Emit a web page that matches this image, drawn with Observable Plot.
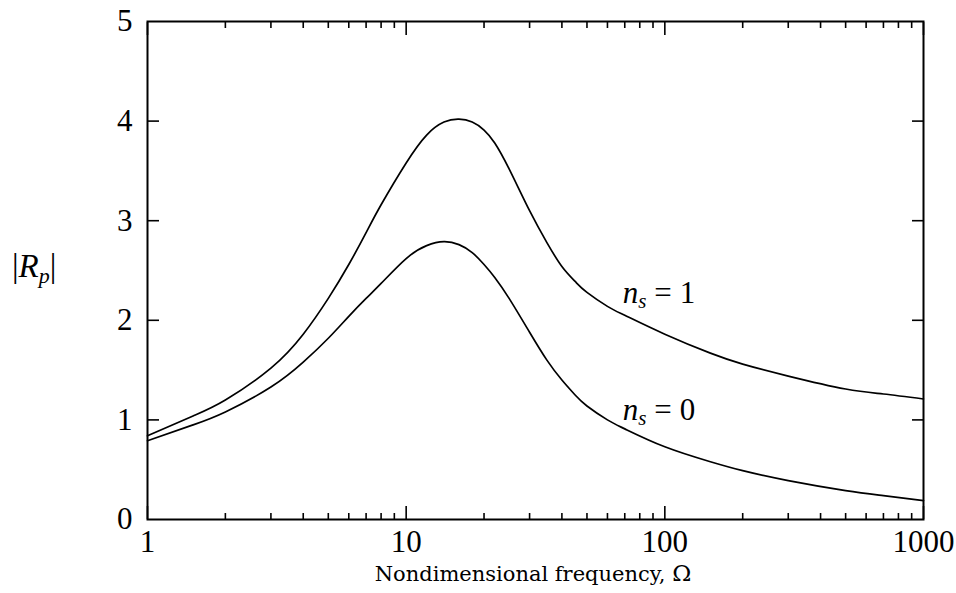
<!DOCTYPE html>
<html><head><meta charset="utf-8">
<script src="https://cdn.jsdelivr.net/npm/d3@7"></script>
<script src="https://cdn.jsdelivr.net/npm/@observablehq/plot@0.6"></script>
<style>body{margin:0;background:#fff}</style>
</head><body><div id="chart"></div>
<script>
// Nondimensional frequency Ω
const omega = [1, 1.5, 2, 3, 4, 5, 6, 7, 8, 10, 12, 14, 16, 18, 20, 22, 25, 30, 35, 40, 45, 50, 60, 70, 100, 150, 200, 300, 500, 700, 1000];
// |R_p| for n_s = 1
const rpNs1 = [0.84, 1.04, 1.20, 1.52, 1.86, 2.22, 2.56, 2.88, 3.16, 3.58, 3.86, 3.99, 4.02, 3.99, 3.91, 3.78, 3.52, 3.10, 2.78, 2.54, 2.39, 2.28, 2.14, 2.05, 1.86, 1.67, 1.56, 1.44, 1.31, 1.26, 1.21];
// |R_p| for n_s = 0
const rpNs0 = [0.79, 0.95, 1.08, 1.33, 1.58, 1.82, 2.04, 2.22, 2.37, 2.62, 2.75, 2.79, 2.76, 2.68, 2.56, 2.43, 2.22, 1.88, 1.60, 1.40, 1.25, 1.14, 1.00, 0.91, 0.73, 0.58, 0.49, 0.39, 0.29, 0.24, 0.19];

const xMajorTicks = [1, 10, 100, 1000];
const xMinorTicks = [2, 3, 4, 5, 6, 7, 8, 9, 20, 30, 40, 50, 60, 70, 80, 90, 200, 300, 400, 500, 600, 700, 800, 900];
const yTickLabels = [0, 1, 2, 3, 4, 5];
const yInnerTicks = [1, 2, 3, 4];

const seriesNames = ["1", "0"];
const labelOmega = [69, 69];
const labelValue = [2.17, 0.99];

const data = omega.flatMap((o, i) => [
  {omega: o, rp: rpNs1[i], ns: "1"},
  {omega: o, rp: rpNs0[i], ns: "0"}
]);

const serif = "'Liberation Serif', 'Times New Roman', serif";

const plot = Plot.plot({
  width: 956,
  height: 593,
  marginLeft: 147,
  marginRight: 33,
  marginTop: 21,
  marginBottom: 74,
  x: {type: "log", domain: [1, 1000]},
  y: {domain: [0, 5]},
  style: {fontFamily: serif, fontSize: "31px", color: "black", background: "white"},
  marks: [
    Plot.axisX(xMajorTicks, {anchor: "bottom", tickSize: -13, text: null, label: null, strokeWidth: 1.6}),
    Plot.axisX(xMinorTicks, {anchor: "bottom", tickSize: -6, text: null, label: null, strokeWidth: 1.6}),
    Plot.axisX(xMajorTicks, {anchor: "top", tickSize: -13, text: null, label: null, strokeWidth: 1.6}),
    Plot.axisX(xMinorTicks, {anchor: "top", tickSize: -6, text: null, label: null, strokeWidth: 1.6}),
    Plot.axisX(xMajorTicks, {anchor: "bottom", tickSize: 0, tickPadding: 10, label: null, tickFormat: d => String(d)}),
    Plot.axisY(yInnerTicks, {anchor: "left", tickSize: -12, text: null, label: null, strokeWidth: 1.6}),
    Plot.axisY(yInnerTicks, {anchor: "right", tickSize: -12, text: null, label: null, strokeWidth: 1.6}),
    Plot.axisY(yTickLabels, {anchor: "left", tickSize: 0, tickPadding: 15, label: null, tickFormat: d => String(d)}),
    Plot.line(data, {x: "omega", y: "rp", z: "ns", stroke: "black", strokeWidth: 1.7, curve: "natural"}),
    Plot.frame({stroke: "black", strokeWidth: 2})
  ]
});

document.getElementById("chart").appendChild(plot);

const svg = d3.select(plot);
const xs = plot.scale("x"), ys = plot.scale("y");

// Y axis label |R_p|
const yl = svg.append("text")
  .attr("x", 12).attr("y", 277).attr("text-anchor", "start")
  .attr("font-family", serif).attr("font-size", 33).attr("fill", "black");
yl.append("tspan").text("|");
yl.append("tspan").attr("font-style", "italic").text("R");
yl.append("tspan").attr("font-style", "italic").attr("font-size", 22).attr("dy", 6).text("p");
yl.append("tspan").attr("dy", -6).text("|");

// X axis label
const xl = svg.append("text")
  .attr("x", 533).attr("y", 581).attr("text-anchor", "middle")
  .attr("font-family", "'DejaVu Serif', serif").attr("font-size", 21).attr("fill", "black");
xl.append("tspan").text("Nondimensional frequency, ");
xl.append("tspan").attr("font-size", 23).text("Ω");

// Series labels n_s = 1 / n_s = 0
seriesNames.forEach((n, i) => {
  const t = svg.append("text")
    .attr("x", xs.apply(labelOmega[i]))
    .attr("y", ys.apply(labelValue[i]))
    .attr("text-anchor", "start")
    .attr("font-family", serif).attr("font-size", 31).attr("fill", "black");
  t.append("tspan").attr("font-style", "italic").text("n");
  t.append("tspan").attr("font-style", "italic").attr("font-size", 21).attr("dy", 5).text("s");
  t.append("tspan").attr("dy", -5).attr("dx", 8).text("=");
  t.append("tspan").attr("dx", 8).text(n);
});
</script>
</body></html>
